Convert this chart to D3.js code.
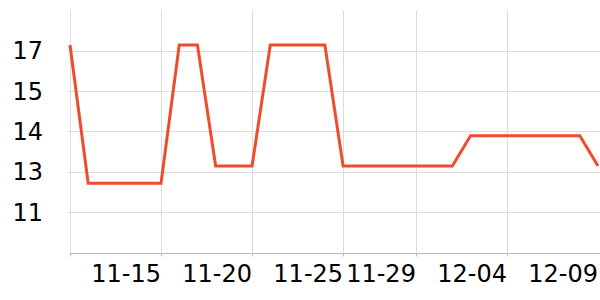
<!DOCTYPE html>
<meta charset="utf-8">
<title>Line</title>
<style>
body { margin: 0; background: #fff; }
text { font-family: "DejaVu Sans", sans-serif; }
</style>
<body>
<script src="https://d3js.org/d3.v7.min.js"></script>
<script>

var dates = ["11-10","11-11","11-12","11-13","11-14","11-15","11-16","11-17","11-18","11-19",
             "11-20","11-21","11-22","11-23","11-24","11-25","11-26","11-27","11-28","11-29",
             "11-30","12-01","12-02","12-03","12-04","12-05","12-06","12-07","12-08","12-09"];
var values = [17, 12.2, 12.2, 12.2, 12.2, 12.2, 17, 17, 12.8, 12.8,
              12.8, 17, 17, 17, 17, 12.8, 12.8, 12.8, 12.8, 12.8,
              12.8, 12.8, 13.85, 13.85, 13.85, 13.85, 13.85, 13.85, 13.85, 12.8];
var xTicks = ["11-10","11-15","11-20","11-25","11-29","12-04"];
var xLabels = ["11-15","11-20","11-25","11-29","12-04","12-09"];
var yTicks = [11.2, 12.6, 14, 15.4, 16.8];

var width = 600, height = 300;
var margin = {top: 10.4, right: 2, bottom: 47.5, left: 70};

var svg = d3.select("body").append("svg")
    .attr("width", width)
    .attr("height", height);

var x = d3.scalePoint()
    .domain(dates)
    .range([margin.left, width - margin.right]);

var y = d3.scaleLinear()
    .domain([9.8, 18.2])
    .range([height - margin.bottom, margin.top]);

// grid
svg.append("g").selectAll("line")
  .data(yTicks)
  .enter().append("line")
    .attr("x1", margin.left - 2).attr("x2", width)
    .attr("y1", function(d) { return Math.round(y(d)) + 0.5; })
    .attr("y2", function(d) { return Math.round(y(d)) + 0.5; })
    .attr("stroke", "#dcdcdc");

svg.append("g").selectAll("line")
  .data(xTicks)
  .enter().append("line")
    .attr("x1", function(d) { return Math.round(x(d)) + 0.5; })
    .attr("x2", function(d) { return Math.round(x(d)) + 0.5; })
    .attr("y1", margin.top).attr("y2", height - margin.bottom)
    .attr("stroke", "#dcdcdc");

// y labels
svg.append("g").selectAll("text")
  .data(yTicks)
  .enter().append("text")
    .attr("x", 43)
    .attr("y", function(d) { return y(d); })
    .attr("dy", "0.35em")
    .attr("text-anchor", "end")
    .attr("font-size", 24)
    .attr("fill", "#000")
    .text(d3.format(".0f"));

// x axis
var by = Math.round(height - margin.bottom) + 0.5;
svg.append("line")
    .attr("x1", margin.left).attr("x2", width)
    .attr("y1", by).attr("y2", by)
    .attr("stroke", "#b8b8b8");

svg.append("g").selectAll("line")
  .data(xTicks)
  .enter().append("line")
    .attr("x1", function(d) { return Math.round(x(d)) + 0.5; })
    .attr("x2", function(d) { return Math.round(x(d)) + 0.5; })
    .attr("y1", by).attr("y2", by + 3)
    .attr("stroke", "#b8b8b8");

svg.append("g").selectAll("text")
  .data(xLabels)
  .enter().append("text")
    .attr("x", function(d) { return x(d); })
    .attr("y", 282)
    .attr("text-anchor", "end")
    .attr("font-size", 24)
    .attr("fill", "#000")
    .text(function(d) { return d; });

var line = d3.line()
    .x(function(d, i) { return x(dates[i]); })
    .y(function(d) { return y(d); });

svg.append("path")
    .datum(values)
    .attr("d", line)
    .attr("fill", "none")
    .attr("stroke", "#ef4b2d")
    .attr("stroke-width", 3)
    .attr("stroke-linejoin", "miter");

</script>
</body>
